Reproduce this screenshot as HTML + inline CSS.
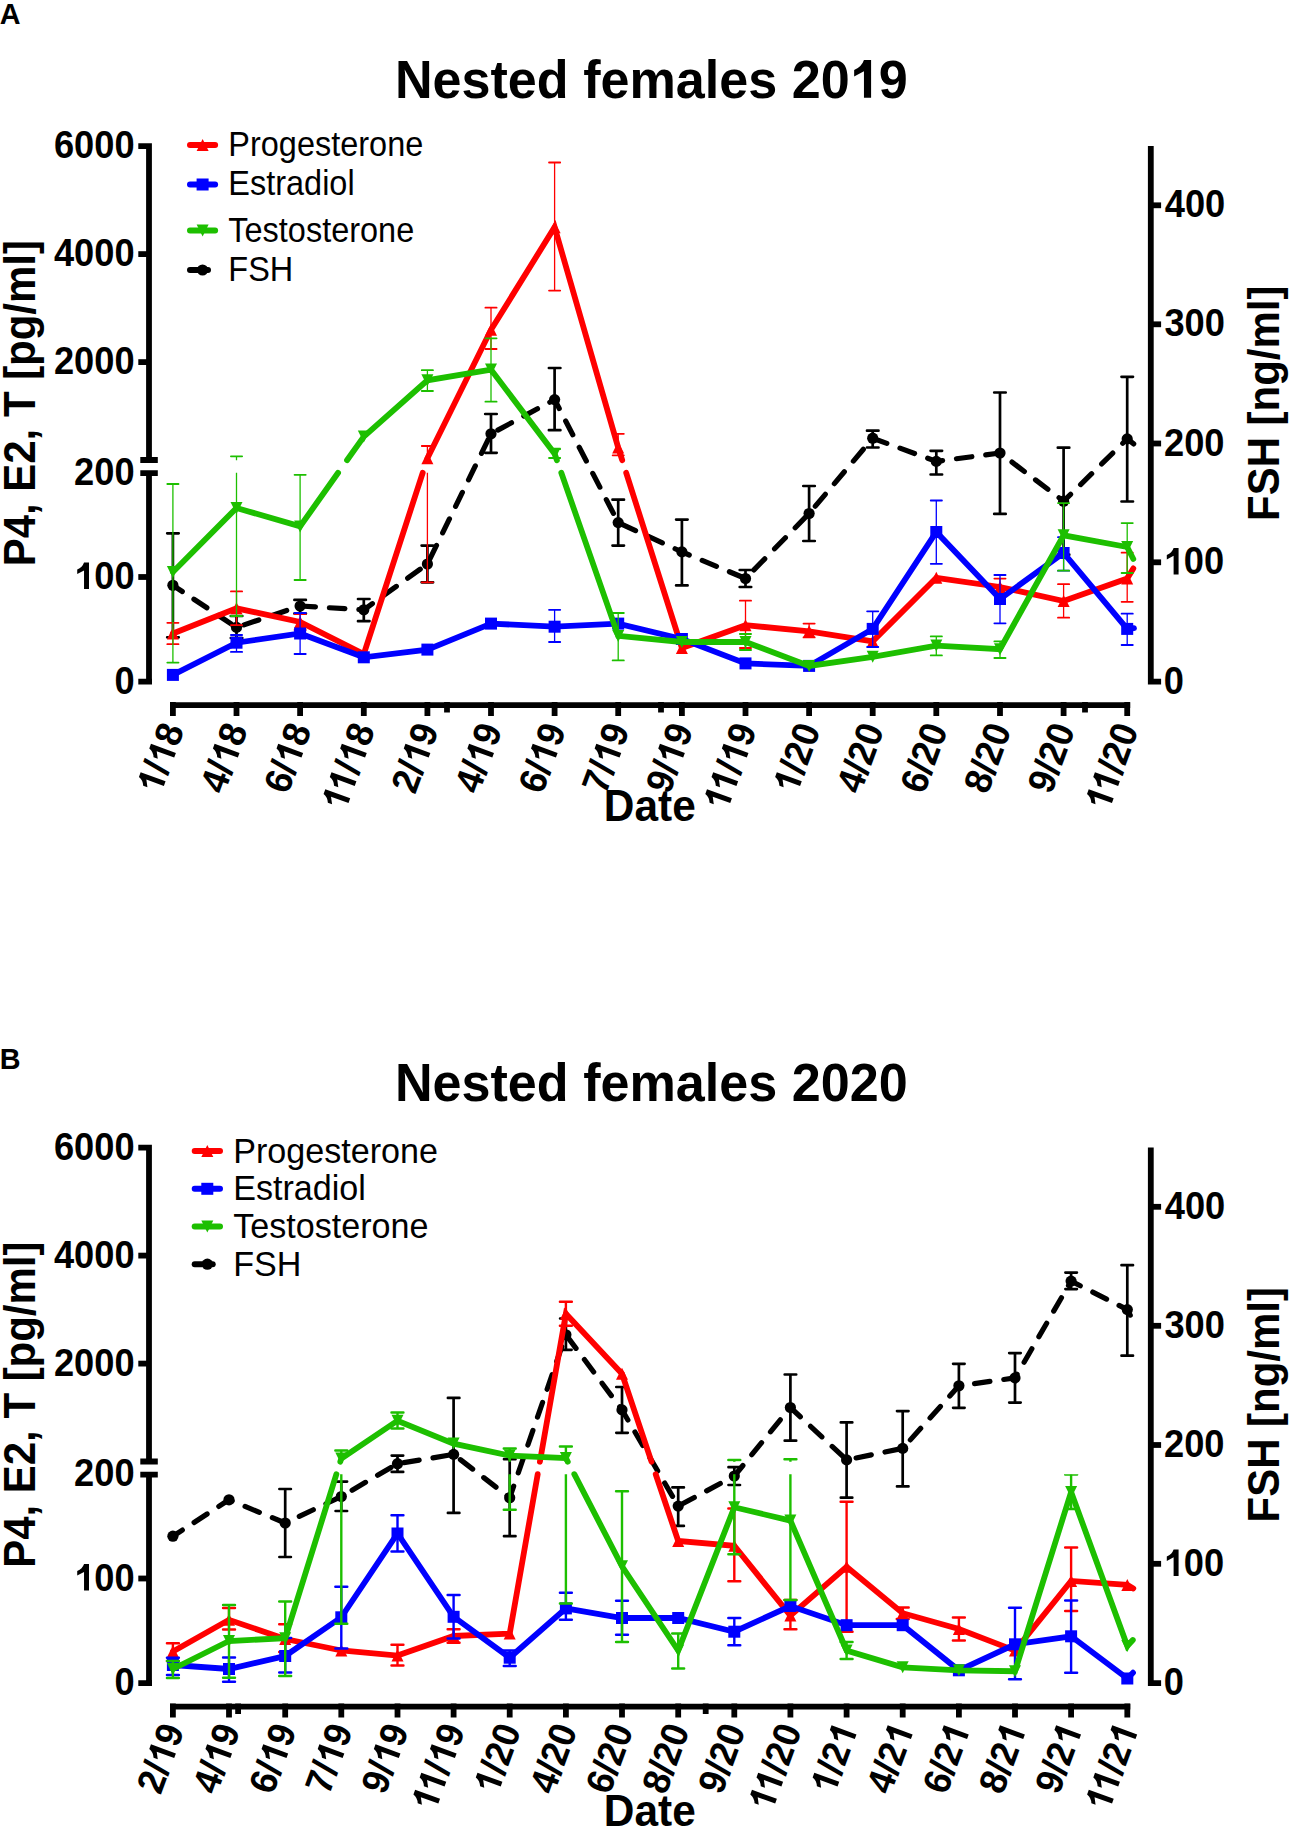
<!DOCTYPE html>
<html><head><meta charset="utf-8"><style>
html,body{margin:0;padding:0;background:#fff;}
body{width:1290px;height:1829px;overflow:hidden;}
svg{display:block;font-family:"Liberation Sans",sans-serif;}
</style></head><body>
<svg width="1290" height="1829" viewBox="0 0 1290 1829">
<rect width="1290" height="1829" fill="#fff"/>
<g transform="translate(-0.22,24.00) scale(0.96,1)" fill="#000">
<text x="0.00" y="0" font-size="30" font-weight="700">A</text>
</g>
<g transform="translate(394.91,97.75) scale(0.965,1)" fill="#000">
<text x="0.00 39.00 69.03 99.06 117.04 147.08 195.06 213.05 243.08 291.09 321.13 336.13 366.16 411.20 441.23 501.29" y="0" font-size="54" font-weight="700">Nestedfemales209</text>
<path transform="translate(471.26,0) scale(54)" d="M0.411,0 L0.411,-0.698 L0.274,-0.698 Q0.23,-0.57 0.086,-0.513 L0.086,-0.395 L0.274,-0.49 L0.274,0 Z"/>
</g>
<g transform="translate(0,0)">
<g stroke="#000" stroke-width="5.8" fill="none" stroke-linecap="butt">
<path d="M138.3,146.2 H149 V460.2 M140.3,460 H157.8 M140.3,473.1 H157.8 M149,472.8 V684.5 M138.3,681.7 H152"/>
<path d="M138.3,254.1 H149"/>
<path d="M138.3,362.1 H149"/>
<path d="M138.3,577.0 H149"/>
<path d="M1150.8,145.9 V684.5 M1148,681.7 H1161.1"/>
<path d="M1150.8,205.3 H1161.1"/>
<path d="M1150.8,324.3 H1161.1"/>
<path d="M1150.8,443.5 H1161.1"/>
<path d="M1150.8,562.3 H1161.1"/>
<path d="M170,705.2 H1130.2"/>
<path d="M172.9,702 V716"/>
<path d="M236.5,702 V716"/>
<path d="M300.1,702 V716"/>
<path d="M363.8,702 V716"/>
<path d="M427.4,702 V716"/>
<path d="M491.0,702 V716"/>
<path d="M554.6,702 V716"/>
<path d="M618.2,702 V716"/>
<path d="M681.9,702 V716"/>
<path d="M745.5,702 V716"/>
<path d="M809.1,702 V716"/>
<path d="M872.7,702 V716"/>
<path d="M936.3,702 V716"/>
<path d="M1000.0,702 V716"/>
<path d="M1063.6,702 V716"/>
<path d="M1127.2,702 V716"/>
<path d="M447.0,702 V712.5"/>
<path d="M661.0,702 V712.5"/>
<path d="M1085.0,702 V712.5"/>
</g>
<g transform="translate(53.94,158.30) scale(0.954,1)" fill="#000">
<text x="0.00 21.13 42.27 63.40" y="0" font-size="38" font-weight="700">6000</text>
</g>
<g transform="translate(53.94,266.20) scale(0.954,1)" fill="#000">
<text x="0.00 21.13 42.27 63.40" y="0" font-size="38" font-weight="700">4000</text>
</g>
<g transform="translate(53.94,374.20) scale(0.954,1)" fill="#000">
<text x="0.00 21.13 42.27 63.40" y="0" font-size="38" font-weight="700">2000</text>
</g>
<g transform="translate(74.10,484.90) scale(0.954,1)" fill="#000">
<text x="0.00 21.13 42.27" y="0" font-size="38" font-weight="700">200</text>
</g>
<g transform="translate(74.10,589.10) scale(0.954,1)" fill="#000">
<text x="21.13 42.27" y="0" font-size="38" font-weight="700">00</text>
<path transform="translate(0.00,0) scale(38)" d="M0.411,0 L0.411,-0.698 L0.274,-0.698 Q0.23,-0.57 0.086,-0.513 L0.086,-0.395 L0.274,-0.49 L0.274,0 Z"/>
</g>
<g transform="translate(114.43,693.80) scale(0.954,1)" fill="#000">
<text x="0.00" y="0" font-size="38" font-weight="700">0</text>
</g>
<g transform="translate(1163.87,693.80) scale(0.954,1)" fill="#000">
<text x="0.00" y="0" font-size="38" font-weight="700">0</text>
</g>
<g transform="translate(1163.68,574.40) scale(0.954,1)" fill="#000">
<text x="21.13 42.27" y="0" font-size="38" font-weight="700">00</text>
<path transform="translate(0.00,0) scale(38)" d="M0.411,0 L0.411,-0.698 L0.274,-0.698 Q0.23,-0.57 0.086,-0.513 L0.086,-0.395 L0.274,-0.49 L0.274,0 Z"/>
</g>
<g transform="translate(1164.04,455.60) scale(0.954,1)" fill="#000">
<text x="0.00 21.13 42.27" y="0" font-size="38" font-weight="700">200</text>
</g>
<g transform="translate(1164.47,336.40) scale(0.954,1)" fill="#000">
<text x="0.00 21.13 42.27" y="0" font-size="38" font-weight="700">300</text>
</g>
<g transform="translate(1164.75,217.40) scale(0.954,1)" fill="#000">
<text x="0.00 21.13 42.27" y="0" font-size="38" font-weight="700">400</text>
</g>
<g transform="translate(34.65,566.31) rotate(-90) scale(0.932,1)" fill="#000">
<text x="0.00 30.01 55.04 80.05 110.06 135.09 160.09 200.08 215.07 242.56 270.04 282.55 322.56 335.06" y="0" font-size="45" font-weight="700">P4,E2,T[pg/ml]</text>
</g>
<g transform="translate(1279.10,520.91) rotate(-90) scale(0.932,1)" fill="#000">
<text x="0.00 27.49 57.50 102.50 117.49 144.98 172.46 184.97 224.98 237.48" y="0" font-size="45" font-weight="700">FSH[ng/ml]</text>
</g>
<g transform="translate(184.60,729.00) rotate(-70) scale(0.954,1)" fill="#000">
<text x="-52.83 -21.13" y="0" font-size="38" font-weight="700">/8</text>
<path transform="translate(-73.96,0) scale(38)" d="M0.411,0 L0.411,-0.698 L0.274,-0.698 Q0.23,-0.57 0.086,-0.513 L0.086,-0.395 L0.274,-0.49 L0.274,0 Z"/>
<path transform="translate(-42.27,0) scale(38)" d="M0.411,0 L0.411,-0.698 L0.274,-0.698 Q0.23,-0.57 0.086,-0.513 L0.086,-0.395 L0.274,-0.49 L0.274,0 Z"/>
</g>
<g transform="translate(248.22,729.00) rotate(-70) scale(0.954,1)" fill="#000">
<text x="-73.96 -52.83 -21.13" y="0" font-size="38" font-weight="700">4/8</text>
<path transform="translate(-42.27,0) scale(38)" d="M0.411,0 L0.411,-0.698 L0.274,-0.698 Q0.23,-0.57 0.086,-0.513 L0.086,-0.395 L0.274,-0.49 L0.274,0 Z"/>
</g>
<g transform="translate(311.84,729.00) rotate(-70) scale(0.954,1)" fill="#000">
<text x="-73.96 -52.83 -21.13" y="0" font-size="38" font-weight="700">6/8</text>
<path transform="translate(-42.27,0) scale(38)" d="M0.411,0 L0.411,-0.698 L0.274,-0.698 Q0.23,-0.57 0.086,-0.513 L0.086,-0.395 L0.274,-0.49 L0.274,0 Z"/>
</g>
<g transform="translate(375.46,729.00) rotate(-70) scale(0.954,1)" fill="#000">
<text x="-52.83 -21.13" y="0" font-size="38" font-weight="700">/8</text>
<path transform="translate(-93.00,0) scale(38)" d="M0.411,0 L0.411,-0.698 L0.274,-0.698 Q0.23,-0.57 0.086,-0.513 L0.086,-0.395 L0.274,-0.49 L0.274,0 Z"/>
<path transform="translate(-73.96,0) scale(38)" d="M0.411,0 L0.411,-0.698 L0.274,-0.698 Q0.23,-0.57 0.086,-0.513 L0.086,-0.395 L0.274,-0.49 L0.274,0 Z"/>
<path transform="translate(-42.27,0) scale(38)" d="M0.411,0 L0.411,-0.698 L0.274,-0.698 Q0.23,-0.57 0.086,-0.513 L0.086,-0.395 L0.274,-0.49 L0.274,0 Z"/>
</g>
<g transform="translate(439.08,729.00) rotate(-70) scale(0.954,1)" fill="#000">
<text x="-73.96 -52.83 -21.13" y="0" font-size="38" font-weight="700">2/9</text>
<path transform="translate(-42.27,0) scale(38)" d="M0.411,0 L0.411,-0.698 L0.274,-0.698 Q0.23,-0.57 0.086,-0.513 L0.086,-0.395 L0.274,-0.49 L0.274,0 Z"/>
</g>
<g transform="translate(502.70,729.00) rotate(-70) scale(0.954,1)" fill="#000">
<text x="-73.96 -52.83 -21.13" y="0" font-size="38" font-weight="700">4/9</text>
<path transform="translate(-42.27,0) scale(38)" d="M0.411,0 L0.411,-0.698 L0.274,-0.698 Q0.23,-0.57 0.086,-0.513 L0.086,-0.395 L0.274,-0.49 L0.274,0 Z"/>
</g>
<g transform="translate(566.32,729.00) rotate(-70) scale(0.954,1)" fill="#000">
<text x="-73.96 -52.83 -21.13" y="0" font-size="38" font-weight="700">6/9</text>
<path transform="translate(-42.27,0) scale(38)" d="M0.411,0 L0.411,-0.698 L0.274,-0.698 Q0.23,-0.57 0.086,-0.513 L0.086,-0.395 L0.274,-0.49 L0.274,0 Z"/>
</g>
<g transform="translate(629.94,729.00) rotate(-70) scale(0.954,1)" fill="#000">
<text x="-73.96 -52.83 -21.13" y="0" font-size="38" font-weight="700">7/9</text>
<path transform="translate(-42.27,0) scale(38)" d="M0.411,0 L0.411,-0.698 L0.274,-0.698 Q0.23,-0.57 0.086,-0.513 L0.086,-0.395 L0.274,-0.49 L0.274,0 Z"/>
</g>
<g transform="translate(693.56,729.00) rotate(-70) scale(0.954,1)" fill="#000">
<text x="-73.96 -52.83 -21.13" y="0" font-size="38" font-weight="700">9/9</text>
<path transform="translate(-42.27,0) scale(38)" d="M0.411,0 L0.411,-0.698 L0.274,-0.698 Q0.23,-0.57 0.086,-0.513 L0.086,-0.395 L0.274,-0.49 L0.274,0 Z"/>
</g>
<g transform="translate(757.18,729.00) rotate(-70) scale(0.954,1)" fill="#000">
<text x="-52.83 -21.13" y="0" font-size="38" font-weight="700">/9</text>
<path transform="translate(-93.00,0) scale(38)" d="M0.411,0 L0.411,-0.698 L0.274,-0.698 Q0.23,-0.57 0.086,-0.513 L0.086,-0.395 L0.274,-0.49 L0.274,0 Z"/>
<path transform="translate(-73.96,0) scale(38)" d="M0.411,0 L0.411,-0.698 L0.274,-0.698 Q0.23,-0.57 0.086,-0.513 L0.086,-0.395 L0.274,-0.49 L0.274,0 Z"/>
<path transform="translate(-42.27,0) scale(38)" d="M0.411,0 L0.411,-0.698 L0.274,-0.698 Q0.23,-0.57 0.086,-0.513 L0.086,-0.395 L0.274,-0.49 L0.274,0 Z"/>
</g>
<g transform="translate(820.80,729.00) rotate(-70) scale(0.954,1)" fill="#000">
<text x="-52.83 -42.27 -21.13" y="0" font-size="38" font-weight="700">/20</text>
<path transform="translate(-73.96,0) scale(38)" d="M0.411,0 L0.411,-0.698 L0.274,-0.698 Q0.23,-0.57 0.086,-0.513 L0.086,-0.395 L0.274,-0.49 L0.274,0 Z"/>
</g>
<g transform="translate(884.42,729.00) rotate(-70) scale(0.954,1)" fill="#000">
<text x="-73.96 -52.83 -42.27 -21.13" y="0" font-size="38" font-weight="700">4/20</text>
</g>
<g transform="translate(948.04,729.00) rotate(-70) scale(0.954,1)" fill="#000">
<text x="-73.96 -52.83 -42.27 -21.13" y="0" font-size="38" font-weight="700">6/20</text>
</g>
<g transform="translate(1011.66,729.00) rotate(-70) scale(0.954,1)" fill="#000">
<text x="-73.96 -52.83 -42.27 -21.13" y="0" font-size="38" font-weight="700">8/20</text>
</g>
<g transform="translate(1075.28,729.00) rotate(-70) scale(0.954,1)" fill="#000">
<text x="-73.96 -52.83 -42.27 -21.13" y="0" font-size="38" font-weight="700">9/20</text>
</g>
<g transform="translate(1138.90,729.00) rotate(-70) scale(0.954,1)" fill="#000">
<text x="-52.83 -42.27 -21.13" y="0" font-size="38" font-weight="700">/20</text>
<path transform="translate(-93.00,0) scale(38)" d="M0.411,0 L0.411,-0.698 L0.274,-0.698 Q0.23,-0.57 0.086,-0.513 L0.086,-0.395 L0.274,-0.49 L0.274,0 Z"/>
<path transform="translate(-73.96,0) scale(38)" d="M0.411,0 L0.411,-0.698 L0.274,-0.698 Q0.23,-0.57 0.086,-0.513 L0.086,-0.395 L0.274,-0.49 L0.274,0 Z"/>
</g>
<g transform="translate(603.87,820.70) scale(0.963,1)" fill="#000">
<text x="0.00 31.78 56.25 70.90" y="0" font-size="44" font-weight="700">Date</text>
</g>
</g>
<line x1="190" y1="145" x2="215.1" y2="145" stroke="#ff0000" stroke-width="6" stroke-linecap="round"/>
<path d="M202.6,139.0 L208.6,151.0 L196.6,151.0 Z" fill="#ff0000"/>
<g transform="translate(228.34,155.70) scale(0.941,1)" fill="#000">
<text x="0.00 23.01 34.50 53.69 72.87 92.06 109.31 118.90 138.08 149.57 168.76 187.95" y="0" font-size="34.5" font-weight="400">Progesterone</text>
</g>
<line x1="190" y1="184.5" x2="215.1" y2="184.5" stroke="#0000ff" stroke-width="6" stroke-linecap="round"/>
<rect x="196.6" y="178.5" width="12" height="12" fill="#0000ff"/>
<g transform="translate(228.34,195.20) scale(0.941,1)" fill="#000">
<text x="0.00 23.01 40.26 49.85 61.34 80.52 99.71 107.37 126.56" y="0" font-size="34.5" font-weight="400">Estradiol</text>
</g>
<line x1="190" y1="230.5" x2="215.1" y2="230.5" stroke="#1dbf00" stroke-width="6" stroke-linecap="round"/>
<path d="M202.6,236.5 L208.6,224.5 L196.6,224.5 Z" fill="#1dbf00"/>
<g transform="translate(228.34,242.00) scale(0.941,1)" fill="#000">
<text x="0.00 17.25 36.44 53.69 63.27 82.46 99.71 109.29 128.48 139.97 159.16 178.35" y="0" font-size="34.5" font-weight="400">Testosterone</text>
</g>
<line x1="190" y1="270" x2="208" y2="270" stroke="#000000" stroke-width="6" stroke-linecap="round"/>
<circle cx="202.55" cy="270" r="5.6" fill="#000000"/>
<g transform="translate(228.34,280.90) scale(0.941,1)" fill="#000">
<text x="0.00 21.07 44.09" y="0" font-size="34.5" font-weight="400">FSH</text>
</g>
<clipPath id="clipA"><path d="M0,0 H1290 V460.2 H0 Z M0,472.75 H1290 V1829 H0 Z"/></clipPath>
<g stroke="#000" stroke-width="2.7" fill="none" stroke-linecap="round">
<path d="M172.9,533.3 V637.3 M167.2,533.3 h11.5 M167.2,637.3 h11.5"/>
<path d="M236.5,616 V638 M230.8,616 h11.5 M230.8,638 h11.5"/>
<path d="M300.1,599.9 V613.6 M294.4,599.9 h11.5 M294.4,613.6 h11.5"/>
<path d="M363.8,599 V621.2 M358.0,599 h11.5 M358.0,621.2 h11.5"/>
<path d="M427.4,545.6 V582.3 M421.6,545.6 h11.5 M421.6,582.3 h11.5"/>
<path d="M491.0,414 V452.8 M485.2,414 h11.5 M485.2,452.8 h11.5"/>
<path d="M554.6,368 V430.2 M548.9,368 h11.5 M548.9,430.2 h11.5"/>
<path d="M618.2,499.7 V545.6 M612.5,499.7 h11.5 M612.5,545.6 h11.5"/>
<path d="M681.9,519.6 V585.4 M676.1,519.6 h11.5 M676.1,585.4 h11.5"/>
<path d="M745.5,570 V587 M739.7,570 h11.5 M739.7,587 h11.5"/>
<path d="M809.1,486 V541 M803.3,486 h11.5 M803.3,541 h11.5"/>
<path d="M872.7,430.7 V447.5 M867.0,430.7 h11.5 M867.0,447.5 h11.5"/>
<path d="M936.3,450.8 V474.5 M930.6,450.8 h11.5 M930.6,474.5 h11.5"/>
<path d="M1000.0,392.5 V513.9 M994.2,392.5 h11.5 M994.2,513.9 h11.5"/>
<path d="M1063.6,447.7 V554.7 M1057.8,447.7 h11.5 M1057.8,554.7 h11.5"/>
<path d="M1127.2,376.8 V501.5 M1121.5,376.8 h11.5 M1121.5,501.5 h11.5"/>
</g>
<polyline points="172.9,585.3 236.5,627.4 300.1,606.0 363.8,609.8 427.4,564.0 491.0,433.8 554.6,399.6 618.2,522.6 681.9,551.9 745.5,578.5 809.1,513.5 872.7,438.2 936.3,461.4 1000.0,453.0 1063.6,501.2 1127.2,438.9 1133.7,443.9" fill="none" stroke="#000" stroke-width="5.2" stroke-dasharray="15.5 14" stroke-dashoffset="4.25" stroke-linecap="round" stroke-linejoin="round"/>
<circle cx="172.9" cy="585.3" r="5.6" fill="#000"/>
<circle cx="236.5" cy="627.4" r="5.6" fill="#000"/>
<circle cx="300.1" cy="606" r="5.6" fill="#000"/>
<circle cx="363.8" cy="609.8" r="5.6" fill="#000"/>
<circle cx="427.4" cy="564" r="5.6" fill="#000"/>
<circle cx="491.0" cy="433.8" r="5.6" fill="#000"/>
<circle cx="554.6" cy="399.6" r="5.6" fill="#000"/>
<circle cx="618.2" cy="522.6" r="5.6" fill="#000"/>
<circle cx="681.9" cy="551.9" r="5.6" fill="#000"/>
<circle cx="745.5" cy="578.5" r="5.6" fill="#000"/>
<circle cx="809.1" cy="513.5" r="5.6" fill="#000"/>
<circle cx="872.7" cy="438.2" r="5.6" fill="#000"/>
<circle cx="936.3" cy="461.4" r="5.6" fill="#000"/>
<circle cx="1000.0" cy="453" r="5.6" fill="#000"/>
<circle cx="1063.6" cy="501.2" r="5.6" fill="#000"/>
<circle cx="1127.2" cy="438.9" r="5.6" fill="#000"/>
<g clip-path="url(#clipA)">
<g stroke="#ff0000" fill="none" stroke-linecap="round">
<path stroke-width="1.3" stroke-linecap="butt" d="M172.9,622.8 V644.2"/>
<path stroke-width="1.8" d="M167.30,622.8 h11.2 M167.30,644.2 h11.2"/>
<path stroke-width="1.3" stroke-linecap="butt" d="M236.5,591.4 V625.1"/>
<path stroke-width="1.8" d="M230.92,591.4 h11.2 M230.92,625.1 h11.2"/>
<path stroke-width="1.3" stroke-linecap="butt" d="M300.1,614 V630"/>
<path stroke-width="1.8" d="M294.54,614 h11.2 M294.54,630 h11.2"/>
<path stroke-width="1.3" stroke-linecap="butt" d="M427.4,446 V582.3"/>
<path stroke-width="1.8" d="M421.78,446 h11.2 M421.78,582.3 h11.2"/>
<path stroke-width="1.3" stroke-linecap="butt" d="M491.0,307.7 V349"/>
<path stroke-width="1.8" d="M485.40,307.7 h11.2 M485.40,349 h11.2"/>
<path stroke-width="1.3" stroke-linecap="butt" d="M554.6,162.5 V290.6"/>
<path stroke-width="1.8" d="M549.02,162.5 h11.2 M549.02,290.6 h11.2"/>
<path stroke-width="1.3" stroke-linecap="butt" d="M618.2,433.8 V455.3"/>
<path stroke-width="1.8" d="M612.64,433.8 h11.2 M612.64,455.3 h11.2"/>
<path stroke-width="1.3" stroke-linecap="butt" d="M745.5,600.7 V648"/>
<path stroke-width="1.8" d="M739.88,600.7 h11.2 M739.88,648 h11.2"/>
<path stroke-width="1.3" stroke-linecap="butt" d="M809.1,623.6 V637.4"/>
<path stroke-width="1.8" d="M803.50,623.6 h11.2 M803.50,637.4 h11.2"/>
<path stroke-width="1.3" stroke-linecap="butt" d="M1000.0,578.6 V595"/>
<path stroke-width="1.8" d="M994.36,578.6 h11.2 M994.36,595 h11.2"/>
<path stroke-width="1.3" stroke-linecap="butt" d="M1063.6,584.2 V617.7"/>
<path stroke-width="1.8" d="M1057.98,584.2 h11.2 M1057.98,617.7 h11.2"/>
<path stroke-width="1.3" stroke-linecap="butt" d="M1127.2,552.7 V601.8"/>
<path stroke-width="1.8" d="M1121.60,552.7 h11.2 M1121.60,601.8 h11.2"/>
</g>
</g>
<polyline points="172.9,633.5 236.5,608.3 300.1,622.0 363.8,654.2 422.7,472.8" fill="none" stroke="#ff0000" stroke-width="5.8" stroke-linejoin="miter" stroke-miterlimit="3" stroke-linecap="round"/>
<polyline points="426.8,460.2 427.4,458.3 491.0,329.8 554.6,227.2 618.2,447.6 622.2,460.2" fill="none" stroke="#ff0000" stroke-width="5.8" stroke-linejoin="miter" stroke-miterlimit="3" stroke-linecap="round"/>
<polyline points="626.2,472.8 681.9,648.0 745.5,625.2 809.1,631.3 872.7,641.4 936.3,577.8 1000.0,587.0 1063.6,601.0 1127.2,578.6 1133.3,568.4" fill="none" stroke="#ff0000" stroke-width="5.8" stroke-linejoin="miter" stroke-miterlimit="3" stroke-linecap="round"/>
<path d="M172.9,627.5 L178.9,639.5 L166.9,639.5 Z" fill="#ff0000"/>
<path d="M236.5,602.3 L242.5,614.3 L230.5,614.3 Z" fill="#ff0000"/>
<path d="M300.1,616.0 L306.1,628.0 L294.1,628.0 Z" fill="#ff0000"/>
<path d="M363.8,648.2 L369.8,660.2 L357.8,660.2 Z" fill="#ff0000"/>
<path d="M427.4,452.3 L433.4,464.3 L421.4,464.3 Z" fill="#ff0000"/>
<path d="M491.0,323.8 L497.0,335.8 L485.0,335.8 Z" fill="#ff0000"/>
<path d="M554.6,221.2 L560.6,233.2 L548.6,233.2 Z" fill="#ff0000"/>
<path d="M618.2,441.6 L624.2,453.6 L612.2,453.6 Z" fill="#ff0000"/>
<path d="M681.9,642.0 L687.9,654.0 L675.9,654.0 Z" fill="#ff0000"/>
<path d="M745.5,619.2 L751.5,631.2 L739.5,631.2 Z" fill="#ff0000"/>
<path d="M809.1,625.3 L815.1,637.3 L803.1,637.3 Z" fill="#ff0000"/>
<path d="M872.7,635.4 L878.7,647.4 L866.7,647.4 Z" fill="#ff0000"/>
<path d="M936.3,571.8 L942.3,583.8 L930.3,583.8 Z" fill="#ff0000"/>
<path d="M1000.0,581.0 L1006.0,593.0 L994.0,593.0 Z" fill="#ff0000"/>
<path d="M1063.6,595.0 L1069.6,607.0 L1057.6,607.0 Z" fill="#ff0000"/>
<path d="M1127.2,572.6 L1133.2,584.6 L1121.2,584.6 Z" fill="#ff0000"/>
<g clip-path="url(#clipA)">
<g stroke="#0000ff" fill="none" stroke-linecap="round">
<path stroke-width="1.3" stroke-linecap="butt" d="M236.5,635 V651.9"/>
<path stroke-width="1.8" d="M230.92,635 h11.2 M230.92,651.9 h11.2"/>
<path stroke-width="1.3" stroke-linecap="butt" d="M300.1,613 V654"/>
<path stroke-width="1.8" d="M294.54,613 h11.2 M294.54,654 h11.2"/>
<path stroke-width="1.3" stroke-linecap="butt" d="M554.6,609.8 V642"/>
<path stroke-width="1.8" d="M549.02,609.8 h11.2 M549.02,642 h11.2"/>
<path stroke-width="1.3" stroke-linecap="butt" d="M872.7,611.3 V647"/>
<path stroke-width="1.8" d="M867.12,611.3 h11.2 M867.12,647 h11.2"/>
<path stroke-width="1.3" stroke-linecap="butt" d="M936.3,500.5 V563.8"/>
<path stroke-width="1.8" d="M930.74,500.5 h11.2 M930.74,563.8 h11.2"/>
<path stroke-width="1.3" stroke-linecap="butt" d="M1000.0,575 V623.3"/>
<path stroke-width="1.8" d="M994.36,575 h11.2 M994.36,623.3 h11.2"/>
<path stroke-width="1.3" stroke-linecap="butt" d="M1063.6,537.2 V570.7"/>
<path stroke-width="1.8" d="M1057.98,537.2 h11.2 M1057.98,570.7 h11.2"/>
<path stroke-width="1.3" stroke-linecap="butt" d="M1127.2,613.7 V645"/>
<path stroke-width="1.8" d="M1121.60,613.7 h11.2 M1121.60,645 h11.2"/>
</g>
</g>
<polyline points="172.9,674.9 236.5,642.7 300.1,633.5 363.8,657.3 427.4,649.6 491.0,623.6 554.6,626.7 618.2,623.6 681.9,639.0 745.5,663.4 809.1,665.9 872.7,628.9 936.3,532.0 1000.0,599.0 1063.6,553.0 1127.2,628.9 1134.0,628.2" fill="none" stroke="#0000ff" stroke-width="5.8" stroke-linejoin="miter" stroke-miterlimit="3" stroke-linecap="round"/>
<rect x="166.9" y="668.9" width="12" height="12" fill="#0000ff"/>
<rect x="230.5" y="636.7" width="12" height="12" fill="#0000ff"/>
<rect x="294.1" y="627.5" width="12" height="12" fill="#0000ff"/>
<rect x="357.8" y="651.3" width="12" height="12" fill="#0000ff"/>
<rect x="421.4" y="643.6" width="12" height="12" fill="#0000ff"/>
<rect x="485.0" y="617.6" width="12" height="12" fill="#0000ff"/>
<rect x="548.6" y="620.7" width="12" height="12" fill="#0000ff"/>
<rect x="612.2" y="617.6" width="12" height="12" fill="#0000ff"/>
<rect x="675.9" y="633.0" width="12" height="12" fill="#0000ff"/>
<rect x="739.5" y="657.4" width="12" height="12" fill="#0000ff"/>
<rect x="803.1" y="659.9" width="12" height="12" fill="#0000ff"/>
<rect x="866.7" y="622.9" width="12" height="12" fill="#0000ff"/>
<rect x="930.3" y="526.0" width="12" height="12" fill="#0000ff"/>
<rect x="994.0" y="593.0" width="12" height="12" fill="#0000ff"/>
<rect x="1057.6" y="547.0" width="12" height="12" fill="#0000ff"/>
<rect x="1121.2" y="622.9" width="12" height="12" fill="#0000ff"/>
<g clip-path="url(#clipA)">
<g stroke="#1dbf00" fill="none" stroke-linecap="round">
<path stroke-width="1.3" stroke-linecap="butt" d="M172.9,484 V662.6"/>
<path stroke-width="1.8" d="M167.30,484 h11.2 M167.30,662.6 h11.2"/>
<path stroke-width="1.3" stroke-linecap="butt" d="M236.5,456.3 V616"/>
<path stroke-width="1.8" d="M230.92,456.3 h11.2 M230.92,616 h11.2"/>
<path stroke-width="1.3" stroke-linecap="butt" d="M300.1,474.8 V580"/>
<path stroke-width="1.8" d="M294.54,474.8 h11.2 M294.54,580 h11.2"/>
<path stroke-width="1.3" stroke-linecap="butt" d="M427.4,370.2 V391"/>
<path stroke-width="1.8" d="M421.78,370.2 h11.2 M421.78,391 h11.2"/>
<path stroke-width="1.3" stroke-linecap="butt" d="M491.0,338.3 V401.7"/>
<path stroke-width="1.8" d="M485.40,338.3 h11.2 M485.40,401.7 h11.2"/>
<path stroke-width="1.3" stroke-linecap="butt" d="M554.6,449 V458"/>
<path stroke-width="1.8" d="M549.02,449 h11.2 M549.02,458 h11.2"/>
<path stroke-width="1.3" stroke-linecap="butt" d="M618.2,613 V660.4"/>
<path stroke-width="1.8" d="M612.64,613 h11.2 M612.64,660.4 h11.2"/>
<path stroke-width="1.3" stroke-linecap="butt" d="M745.5,634 V650"/>
<path stroke-width="1.8" d="M739.88,634 h11.2 M739.88,650 h11.2"/>
<path stroke-width="1.3" stroke-linecap="butt" d="M936.3,636.4 V655.4"/>
<path stroke-width="1.8" d="M930.74,636.4 h11.2 M930.74,655.4 h11.2"/>
<path stroke-width="1.3" stroke-linecap="butt" d="M1000.0,641.4 V658"/>
<path stroke-width="1.8" d="M994.36,641.4 h11.2 M994.36,658 h11.2"/>
<path stroke-width="1.3" stroke-linecap="butt" d="M1063.6,503.1 V570.7"/>
<path stroke-width="1.8" d="M1057.98,503.1 h11.2 M1057.98,570.7 h11.2"/>
<path stroke-width="1.3" stroke-linecap="butt" d="M1127.2,523.1 V573"/>
<path stroke-width="1.8" d="M1121.60,523.1 h11.2 M1121.60,573 h11.2"/>
</g>
</g>
<polyline points="172.9,572.0 236.5,508.0 300.1,526.4 338.1,472.8" fill="none" stroke="#1dbf00" stroke-width="5.8" stroke-linejoin="miter" stroke-miterlimit="3" stroke-linecap="round"/>
<polyline points="347.0,460.2 363.8,436.6 427.4,380.3 491.0,369.6 554.6,453.7 556.9,460.2" fill="none" stroke="#1dbf00" stroke-width="5.8" stroke-linejoin="miter" stroke-miterlimit="3" stroke-linecap="round"/>
<polyline points="561.3,472.8 618.2,635.9 681.9,642.0 745.5,642.0 809.1,665.9 872.7,656.8 936.3,645.6 1000.0,649.2 1063.6,535.3 1127.2,547.0 1133.3,559.0" fill="none" stroke="#1dbf00" stroke-width="5.8" stroke-linejoin="miter" stroke-miterlimit="3" stroke-linecap="round"/>
<path d="M172.9,578.0 L178.9,566.0 L166.9,566.0 Z" fill="#1dbf00"/>
<path d="M236.5,514.0 L242.5,502.0 L230.5,502.0 Z" fill="#1dbf00"/>
<path d="M300.1,532.4 L306.1,520.4 L294.1,520.4 Z" fill="#1dbf00"/>
<path d="M363.8,442.6 L369.8,430.6 L357.8,430.6 Z" fill="#1dbf00"/>
<path d="M427.4,386.3 L433.4,374.3 L421.4,374.3 Z" fill="#1dbf00"/>
<path d="M491.0,375.6 L497.0,363.6 L485.0,363.6 Z" fill="#1dbf00"/>
<path d="M554.6,459.7 L560.6,447.7 L548.6,447.7 Z" fill="#1dbf00"/>
<path d="M618.2,641.9 L624.2,629.9 L612.2,629.9 Z" fill="#1dbf00"/>
<path d="M681.9,648.0 L687.9,636.0 L675.9,636.0 Z" fill="#1dbf00"/>
<path d="M745.5,648.0 L751.5,636.0 L739.5,636.0 Z" fill="#1dbf00"/>
<path d="M809.1,671.9 L815.1,659.9 L803.1,659.9 Z" fill="#1dbf00"/>
<path d="M872.7,662.8 L878.7,650.8 L866.7,650.8 Z" fill="#1dbf00"/>
<path d="M936.3,651.6 L942.3,639.6 L930.3,639.6 Z" fill="#1dbf00"/>
<path d="M1000.0,655.2 L1006.0,643.2 L994.0,643.2 Z" fill="#1dbf00"/>
<path d="M1063.6,541.3 L1069.6,529.3 L1057.6,529.3 Z" fill="#1dbf00"/>
<path d="M1127.2,553.0 L1133.2,541.0 L1121.2,541.0 Z" fill="#1dbf00"/>
<g transform="translate(-0.13,1068.70) scale(0.96,1)" fill="#000">
<text x="0.00" y="0" font-size="30" font-weight="700">B</text>
</g>
<g transform="translate(394.91,1100.75) scale(0.965,1)" fill="#000">
<text x="0.00 39.00 69.03 99.06 117.04 147.08 195.06 213.05 243.08 291.09 321.13 336.13 366.16 411.20 441.23 471.26 501.29" y="0" font-size="54" font-weight="700">Nestedfemales2020</text>
</g>
<g transform="translate(0,1001.5)">
<g stroke="#000" stroke-width="5.8" fill="none" stroke-linecap="butt">
<path d="M138.3,146.2 H149 V460.2 M140.3,460 H157.8 M140.3,473.1 H157.8 M149,472.8 V684.5 M138.3,681.7 H152"/>
<path d="M138.3,254.1 H149"/>
<path d="M138.3,362.1 H149"/>
<path d="M138.3,577.0 H149"/>
<path d="M1150.8,145.9 V684.5 M1148,681.7 H1161.1"/>
<path d="M1150.8,205.3 H1161.1"/>
<path d="M1150.8,324.3 H1161.1"/>
<path d="M1150.8,443.5 H1161.1"/>
<path d="M1150.8,562.3 H1161.1"/>
<path d="M170,705.2 H1130.3"/>
<path d="M172.9,702 V716"/>
<path d="M229.0,702 V716"/>
<path d="M285.2,702 V716"/>
<path d="M341.3,702 V716"/>
<path d="M397.5,702 V716"/>
<path d="M453.6,702 V716"/>
<path d="M509.7,702 V716"/>
<path d="M565.9,702 V716"/>
<path d="M622.0,702 V716"/>
<path d="M678.2,702 V716"/>
<path d="M734.3,702 V716"/>
<path d="M790.4,702 V716"/>
<path d="M846.6,702 V716"/>
<path d="M902.7,702 V716"/>
<path d="M958.9,702 V716"/>
<path d="M1015.0,702 V716"/>
<path d="M1071.1,702 V716"/>
<path d="M1127.3,702 V716"/>
<path d="M238.1,702 V712.5"/>
<path d="M705.7,702 V712.5"/>
</g>
<g transform="translate(53.94,158.30) scale(0.954,1)" fill="#000">
<text x="0.00 21.13 42.27 63.40" y="0" font-size="38" font-weight="700">6000</text>
</g>
<g transform="translate(53.94,266.20) scale(0.954,1)" fill="#000">
<text x="0.00 21.13 42.27 63.40" y="0" font-size="38" font-weight="700">4000</text>
</g>
<g transform="translate(53.94,374.20) scale(0.954,1)" fill="#000">
<text x="0.00 21.13 42.27 63.40" y="0" font-size="38" font-weight="700">2000</text>
</g>
<g transform="translate(74.10,484.90) scale(0.954,1)" fill="#000">
<text x="0.00 21.13 42.27" y="0" font-size="38" font-weight="700">200</text>
</g>
<g transform="translate(74.10,589.10) scale(0.954,1)" fill="#000">
<text x="21.13 42.27" y="0" font-size="38" font-weight="700">00</text>
<path transform="translate(0.00,0) scale(38)" d="M0.411,0 L0.411,-0.698 L0.274,-0.698 Q0.23,-0.57 0.086,-0.513 L0.086,-0.395 L0.274,-0.49 L0.274,0 Z"/>
</g>
<g transform="translate(114.43,693.80) scale(0.954,1)" fill="#000">
<text x="0.00" y="0" font-size="38" font-weight="700">0</text>
</g>
<g transform="translate(1163.87,693.80) scale(0.954,1)" fill="#000">
<text x="0.00" y="0" font-size="38" font-weight="700">0</text>
</g>
<g transform="translate(1163.68,574.40) scale(0.954,1)" fill="#000">
<text x="21.13 42.27" y="0" font-size="38" font-weight="700">00</text>
<path transform="translate(0.00,0) scale(38)" d="M0.411,0 L0.411,-0.698 L0.274,-0.698 Q0.23,-0.57 0.086,-0.513 L0.086,-0.395 L0.274,-0.49 L0.274,0 Z"/>
</g>
<g transform="translate(1164.04,455.60) scale(0.954,1)" fill="#000">
<text x="0.00 21.13 42.27" y="0" font-size="38" font-weight="700">200</text>
</g>
<g transform="translate(1164.47,336.40) scale(0.954,1)" fill="#000">
<text x="0.00 21.13 42.27" y="0" font-size="38" font-weight="700">300</text>
</g>
<g transform="translate(1164.75,217.40) scale(0.954,1)" fill="#000">
<text x="0.00 21.13 42.27" y="0" font-size="38" font-weight="700">400</text>
</g>
<g transform="translate(34.65,566.31) rotate(-90) scale(0.932,1)" fill="#000">
<text x="0.00 30.01 55.04 80.05 110.06 135.09 160.09 200.08 215.07 242.56 270.04 282.55 322.56 335.06" y="0" font-size="45" font-weight="700">P4,E2,T[pg/ml]</text>
</g>
<g transform="translate(1279.10,520.91) rotate(-90) scale(0.932,1)" fill="#000">
<text x="0.00 27.49 57.50 102.50 117.49 144.98 172.46 184.97 224.98 237.48" y="0" font-size="45" font-weight="700">FSH[ng/ml]</text>
</g>
<g transform="translate(184.60,728.00) rotate(-70) scale(0.954,1)" fill="#000">
<text x="-73.96 -52.83 -21.13" y="0" font-size="38" font-weight="700">2/9</text>
<path transform="translate(-42.27,0) scale(38)" d="M0.411,0 L0.411,-0.698 L0.274,-0.698 Q0.23,-0.57 0.086,-0.513 L0.086,-0.395 L0.274,-0.49 L0.274,0 Z"/>
</g>
<g transform="translate(240.74,728.00) rotate(-70) scale(0.954,1)" fill="#000">
<text x="-73.96 -52.83 -21.13" y="0" font-size="38" font-weight="700">4/9</text>
<path transform="translate(-42.27,0) scale(38)" d="M0.411,0 L0.411,-0.698 L0.274,-0.698 Q0.23,-0.57 0.086,-0.513 L0.086,-0.395 L0.274,-0.49 L0.274,0 Z"/>
</g>
<g transform="translate(296.88,728.00) rotate(-70) scale(0.954,1)" fill="#000">
<text x="-73.96 -52.83 -21.13" y="0" font-size="38" font-weight="700">6/9</text>
<path transform="translate(-42.27,0) scale(38)" d="M0.411,0 L0.411,-0.698 L0.274,-0.698 Q0.23,-0.57 0.086,-0.513 L0.086,-0.395 L0.274,-0.49 L0.274,0 Z"/>
</g>
<g transform="translate(353.02,728.00) rotate(-70) scale(0.954,1)" fill="#000">
<text x="-73.96 -52.83 -21.13" y="0" font-size="38" font-weight="700">7/9</text>
<path transform="translate(-42.27,0) scale(38)" d="M0.411,0 L0.411,-0.698 L0.274,-0.698 Q0.23,-0.57 0.086,-0.513 L0.086,-0.395 L0.274,-0.49 L0.274,0 Z"/>
</g>
<g transform="translate(409.16,728.00) rotate(-70) scale(0.954,1)" fill="#000">
<text x="-73.96 -52.83 -21.13" y="0" font-size="38" font-weight="700">9/9</text>
<path transform="translate(-42.27,0) scale(38)" d="M0.411,0 L0.411,-0.698 L0.274,-0.698 Q0.23,-0.57 0.086,-0.513 L0.086,-0.395 L0.274,-0.49 L0.274,0 Z"/>
</g>
<g transform="translate(465.30,728.00) rotate(-70) scale(0.954,1)" fill="#000">
<text x="-52.83 -21.13" y="0" font-size="38" font-weight="700">/9</text>
<path transform="translate(-93.00,0) scale(38)" d="M0.411,0 L0.411,-0.698 L0.274,-0.698 Q0.23,-0.57 0.086,-0.513 L0.086,-0.395 L0.274,-0.49 L0.274,0 Z"/>
<path transform="translate(-73.96,0) scale(38)" d="M0.411,0 L0.411,-0.698 L0.274,-0.698 Q0.23,-0.57 0.086,-0.513 L0.086,-0.395 L0.274,-0.49 L0.274,0 Z"/>
<path transform="translate(-42.27,0) scale(38)" d="M0.411,0 L0.411,-0.698 L0.274,-0.698 Q0.23,-0.57 0.086,-0.513 L0.086,-0.395 L0.274,-0.49 L0.274,0 Z"/>
</g>
<g transform="translate(521.44,728.00) rotate(-70) scale(0.954,1)" fill="#000">
<text x="-52.83 -42.27 -21.13" y="0" font-size="38" font-weight="700">/20</text>
<path transform="translate(-73.96,0) scale(38)" d="M0.411,0 L0.411,-0.698 L0.274,-0.698 Q0.23,-0.57 0.086,-0.513 L0.086,-0.395 L0.274,-0.49 L0.274,0 Z"/>
</g>
<g transform="translate(577.58,728.00) rotate(-70) scale(0.954,1)" fill="#000">
<text x="-73.96 -52.83 -42.27 -21.13" y="0" font-size="38" font-weight="700">4/20</text>
</g>
<g transform="translate(633.72,728.00) rotate(-70) scale(0.954,1)" fill="#000">
<text x="-73.96 -52.83 -42.27 -21.13" y="0" font-size="38" font-weight="700">6/20</text>
</g>
<g transform="translate(689.86,728.00) rotate(-70) scale(0.954,1)" fill="#000">
<text x="-73.96 -52.83 -42.27 -21.13" y="0" font-size="38" font-weight="700">8/20</text>
</g>
<g transform="translate(746.00,728.00) rotate(-70) scale(0.954,1)" fill="#000">
<text x="-73.96 -52.83 -42.27 -21.13" y="0" font-size="38" font-weight="700">9/20</text>
</g>
<g transform="translate(802.14,728.00) rotate(-70) scale(0.954,1)" fill="#000">
<text x="-52.83 -42.27 -21.13" y="0" font-size="38" font-weight="700">/20</text>
<path transform="translate(-93.00,0) scale(38)" d="M0.411,0 L0.411,-0.698 L0.274,-0.698 Q0.23,-0.57 0.086,-0.513 L0.086,-0.395 L0.274,-0.49 L0.274,0 Z"/>
<path transform="translate(-73.96,0) scale(38)" d="M0.411,0 L0.411,-0.698 L0.274,-0.698 Q0.23,-0.57 0.086,-0.513 L0.086,-0.395 L0.274,-0.49 L0.274,0 Z"/>
</g>
<g transform="translate(858.28,728.00) rotate(-70) scale(0.954,1)" fill="#000">
<text x="-52.83 -42.27" y="0" font-size="38" font-weight="700">/2</text>
<path transform="translate(-73.96,0) scale(38)" d="M0.411,0 L0.411,-0.698 L0.274,-0.698 Q0.23,-0.57 0.086,-0.513 L0.086,-0.395 L0.274,-0.49 L0.274,0 Z"/>
<path transform="translate(-21.13,0) scale(38)" d="M0.411,0 L0.411,-0.698 L0.274,-0.698 Q0.23,-0.57 0.086,-0.513 L0.086,-0.395 L0.274,-0.49 L0.274,0 Z"/>
</g>
<g transform="translate(914.42,728.00) rotate(-70) scale(0.954,1)" fill="#000">
<text x="-73.96 -52.83 -42.27" y="0" font-size="38" font-weight="700">4/2</text>
<path transform="translate(-21.13,0) scale(38)" d="M0.411,0 L0.411,-0.698 L0.274,-0.698 Q0.23,-0.57 0.086,-0.513 L0.086,-0.395 L0.274,-0.49 L0.274,0 Z"/>
</g>
<g transform="translate(970.56,728.00) rotate(-70) scale(0.954,1)" fill="#000">
<text x="-73.96 -52.83 -42.27" y="0" font-size="38" font-weight="700">6/2</text>
<path transform="translate(-21.13,0) scale(38)" d="M0.411,0 L0.411,-0.698 L0.274,-0.698 Q0.23,-0.57 0.086,-0.513 L0.086,-0.395 L0.274,-0.49 L0.274,0 Z"/>
</g>
<g transform="translate(1026.70,728.00) rotate(-70) scale(0.954,1)" fill="#000">
<text x="-73.96 -52.83 -42.27" y="0" font-size="38" font-weight="700">8/2</text>
<path transform="translate(-21.13,0) scale(38)" d="M0.411,0 L0.411,-0.698 L0.274,-0.698 Q0.23,-0.57 0.086,-0.513 L0.086,-0.395 L0.274,-0.49 L0.274,0 Z"/>
</g>
<g transform="translate(1082.84,728.00) rotate(-70) scale(0.954,1)" fill="#000">
<text x="-73.96 -52.83 -42.27" y="0" font-size="38" font-weight="700">9/2</text>
<path transform="translate(-21.13,0) scale(38)" d="M0.411,0 L0.411,-0.698 L0.274,-0.698 Q0.23,-0.57 0.086,-0.513 L0.086,-0.395 L0.274,-0.49 L0.274,0 Z"/>
</g>
<g transform="translate(1138.98,728.00) rotate(-70) scale(0.954,1)" fill="#000">
<text x="-52.83 -42.27" y="0" font-size="38" font-weight="700">/2</text>
<path transform="translate(-93.00,0) scale(38)" d="M0.411,0 L0.411,-0.698 L0.274,-0.698 Q0.23,-0.57 0.086,-0.513 L0.086,-0.395 L0.274,-0.49 L0.274,0 Z"/>
<path transform="translate(-73.96,0) scale(38)" d="M0.411,0 L0.411,-0.698 L0.274,-0.698 Q0.23,-0.57 0.086,-0.513 L0.086,-0.395 L0.274,-0.49 L0.274,0 Z"/>
<path transform="translate(-21.13,0) scale(38)" d="M0.411,0 L0.411,-0.698 L0.274,-0.698 Q0.23,-0.57 0.086,-0.513 L0.086,-0.395 L0.274,-0.49 L0.274,0 Z"/>
</g>
<g transform="translate(603.87,824.70) scale(0.963,1)" fill="#000">
<text x="0.00 31.78 56.25 70.90" y="0" font-size="44" font-weight="700">Date</text>
</g>
</g>
<line x1="194.7" y1="1150.9" x2="220" y2="1150.9" stroke="#ff0000" stroke-width="6" stroke-linecap="round"/>
<path d="M207.3,1144.9 L213.3,1156.9 L201.3,1156.9 Z" fill="#ff0000"/>
<g transform="translate(233.20,1163.00) scale(0.947,1)" fill="#000">
<text x="0.00 24.01 36.00 56.02 76.04 96.06 114.06 124.07 144.09 156.08 176.10 196.12" y="0" font-size="36" font-weight="400">Progesterone</text>
</g>
<line x1="194.7" y1="1188.8" x2="220" y2="1188.8" stroke="#0000ff" stroke-width="6" stroke-linecap="round"/>
<rect x="201.3" y="1182.8" width="12" height="12" fill="#0000ff"/>
<g transform="translate(233.20,1200.30) scale(0.947,1)" fill="#000">
<text x="0.00 24.01 42.01 52.01 64.00 84.02 104.04 112.04 132.06" y="0" font-size="36" font-weight="400">Estradiol</text>
</g>
<line x1="194.7" y1="1226.5" x2="220" y2="1226.5" stroke="#1dbf00" stroke-width="6" stroke-linecap="round"/>
<path d="M207.3,1232.5 L213.3,1220.5 L201.3,1220.5 Z" fill="#1dbf00"/>
<g transform="translate(233.20,1238.00) scale(0.947,1)" fill="#000">
<text x="0.00 18.00 38.02 56.02 66.02 86.04 104.04 114.05 134.07 146.06 166.08 186.10" y="0" font-size="36" font-weight="400">Testosterone</text>
</g>
<line x1="194.7" y1="1264.2" x2="212.7" y2="1264.2" stroke="#000000" stroke-width="6" stroke-linecap="round"/>
<circle cx="207.35" cy="1264.2" r="5.6" fill="#000000"/>
<g transform="translate(233.20,1276.10) scale(0.947,1)" fill="#000">
<text x="0.00 21.99 46.00" y="0" font-size="36" font-weight="400">FSH</text>
</g>
<clipPath id="clipB"><path d="M0,0 H1290 V1461.7 H0 Z M0,1474.25 H1290 V1829 H0 Z"/></clipPath>
<g stroke="#000" stroke-width="2.7" fill="none" stroke-linecap="round">
<path d="M285.2,1489 V1557 M279.4,1489 h11.5 M279.4,1557 h11.5"/>
<path d="M341.3,1481.6 V1511 M335.6,1481.6 h11.5 M335.6,1511 h11.5"/>
<path d="M397.5,1455.6 V1471.9 M391.7,1455.6 h11.5 M391.7,1471.9 h11.5"/>
<path d="M453.6,1397.9 V1512.9 M447.9,1397.9 h11.5 M447.9,1512.9 h11.5"/>
<path d="M509.7,1459.2 V1536.2 M504.0,1459.2 h11.5 M504.0,1536.2 h11.5"/>
<path d="M565.9,1318.5 V1349.8 M560.1,1318.5 h11.5 M560.1,1349.8 h11.5"/>
<path d="M622.0,1387 V1432.8 M616.3,1387 h11.5 M616.3,1432.8 h11.5"/>
<path d="M678.2,1487.4 V1525.9 M672.4,1487.4 h11.5 M672.4,1525.9 h11.5"/>
<path d="M734.3,1467.2 V1485 M728.5,1467.2 h11.5 M728.5,1485 h11.5"/>
<path d="M790.4,1374.5 V1440.7 M784.7,1374.5 h11.5 M784.7,1440.7 h11.5"/>
<path d="M846.6,1422.4 V1497.7 M840.8,1422.4 h11.5 M840.8,1497.7 h11.5"/>
<path d="M902.7,1411.1 V1486.4 M897.0,1411.1 h11.5 M897.0,1486.4 h11.5"/>
<path d="M958.9,1363.8 V1407.8 M953.1,1363.8 h11.5 M953.1,1407.8 h11.5"/>
<path d="M1015.0,1353.1 V1402.6 M1009.2,1353.1 h11.5 M1009.2,1402.6 h11.5"/>
<path d="M1071.1,1272.6 V1289.1 M1065.4,1272.6 h11.5 M1065.4,1289.1 h11.5"/>
<path d="M1127.3,1265.2 V1355.7 M1121.5,1265.2 h11.5 M1121.5,1355.7 h11.5"/>
</g>
<polyline points="172.9,1536.2 229.0,1499.8 285.2,1523.0 341.3,1496.5 397.5,1463.7 453.6,1454.4 509.7,1497.7 565.9,1334.8 622.0,1409.9 678.2,1506.1 734.3,1476.0 790.4,1407.5 846.6,1459.9 902.7,1448.4 958.9,1385.8 1015.0,1377.9 1071.1,1281.1 1127.3,1309.6 1132.8,1320.0" fill="none" stroke="#000" stroke-width="5.2" stroke-dasharray="15.5 14" stroke-dashoffset="4.25" stroke-linecap="round" stroke-linejoin="round"/>
<circle cx="172.9" cy="1536.2" r="5.6" fill="#000"/>
<circle cx="229.0" cy="1499.8" r="5.6" fill="#000"/>
<circle cx="285.2" cy="1523" r="5.6" fill="#000"/>
<circle cx="341.3" cy="1496.5" r="5.6" fill="#000"/>
<circle cx="397.5" cy="1463.7" r="5.6" fill="#000"/>
<circle cx="453.6" cy="1454.4" r="5.6" fill="#000"/>
<circle cx="509.7" cy="1497.7" r="5.6" fill="#000"/>
<circle cx="565.9" cy="1334.8" r="5.6" fill="#000"/>
<circle cx="622.0" cy="1409.9" r="5.6" fill="#000"/>
<circle cx="678.2" cy="1506.1" r="5.6" fill="#000"/>
<circle cx="734.3" cy="1476" r="5.6" fill="#000"/>
<circle cx="790.4" cy="1407.5" r="5.6" fill="#000"/>
<circle cx="846.6" cy="1459.9" r="5.6" fill="#000"/>
<circle cx="902.7" cy="1448.4" r="5.6" fill="#000"/>
<circle cx="958.9" cy="1385.8" r="5.6" fill="#000"/>
<circle cx="1015.0" cy="1377.9" r="5.6" fill="#000"/>
<circle cx="1071.1" cy="1281.1" r="5.6" fill="#000"/>
<circle cx="1127.3" cy="1309.6" r="5.6" fill="#000"/>
<g clip-path="url(#clipB)">
<g stroke="#ff0000" fill="none" stroke-linecap="round">
<path stroke-width="2.4" stroke-linecap="butt" d="M172.9,1643.2 V1661"/>
<path stroke-width="2.5" d="M166.95,1643.2 h11.9 M166.95,1661 h11.9"/>
<path stroke-width="2.4" stroke-linecap="butt" d="M229.0,1607.9 V1629.5"/>
<path stroke-width="2.5" d="M223.09,1607.9 h11.9 M223.09,1629.5 h11.9"/>
<path stroke-width="2.4" stroke-linecap="butt" d="M285.2,1624.3 V1652"/>
<path stroke-width="2.5" d="M279.23,1624.3 h11.9 M279.23,1652 h11.9"/>
<path stroke-width="2.4" stroke-linecap="butt" d="M397.5,1644.7 V1665.6"/>
<path stroke-width="2.5" d="M391.51,1644.7 h11.9 M391.51,1665.6 h11.9"/>
<path stroke-width="2.4" stroke-linecap="butt" d="M453.6,1629.3 V1642.8"/>
<path stroke-width="2.5" d="M447.65,1629.3 h11.9 M447.65,1642.8 h11.9"/>
<path stroke-width="2.4" stroke-linecap="butt" d="M565.9,1301.7 V1325.7"/>
<path stroke-width="2.5" d="M559.93,1301.7 h11.9 M559.93,1325.7 h11.9"/>
<path stroke-width="2.4" stroke-linecap="butt" d="M734.3,1508.5 V1581.2"/>
<path stroke-width="2.5" d="M728.35,1508.5 h11.9 M728.35,1581.2 h11.9"/>
<path stroke-width="2.4" stroke-linecap="butt" d="M790.4,1600 V1629.3"/>
<path stroke-width="2.5" d="M784.49,1600 h11.9 M784.49,1629.3 h11.9"/>
<path stroke-width="2.4" stroke-linecap="butt" d="M846.6,1501.8 V1631.7"/>
<path stroke-width="2.5" d="M840.63,1501.8 h11.9 M840.63,1631.7 h11.9"/>
<path stroke-width="2.4" stroke-linecap="butt" d="M902.7,1607.6 V1619"/>
<path stroke-width="2.5" d="M896.77,1607.6 h11.9 M896.77,1619 h11.9"/>
<path stroke-width="2.4" stroke-linecap="butt" d="M958.9,1617.6 V1640.6"/>
<path stroke-width="2.5" d="M952.91,1617.6 h11.9 M952.91,1640.6 h11.9"/>
<path stroke-width="2.4" stroke-linecap="butt" d="M1071.1,1547.5 V1611"/>
<path stroke-width="2.5" d="M1065.19,1547.5 h11.9 M1065.19,1611 h11.9"/>
</g>
</g>
<polyline points="172.9,1651.5 229.0,1619.8 285.2,1639.0 341.3,1650.5 397.5,1655.6 453.6,1636.0 509.7,1633.6 537.7,1474.2" fill="none" stroke="#ff0000" stroke-width="5.8" stroke-linejoin="miter" stroke-miterlimit="3" stroke-linecap="round"/>
<polyline points="539.9,1461.7 565.9,1313.7 622.0,1373.8 651.5,1461.7" fill="none" stroke="#ff0000" stroke-width="5.8" stroke-linejoin="miter" stroke-miterlimit="3" stroke-linecap="round"/>
<polyline points="655.7,1474.2 678.2,1541.0 734.3,1545.8 790.4,1615.6 846.6,1566.7 902.7,1613.2 958.9,1629.0 1015.0,1650.6 1071.1,1580.9 1127.3,1584.9 1133.3,1588.4" fill="none" stroke="#ff0000" stroke-width="5.8" stroke-linejoin="miter" stroke-miterlimit="3" stroke-linecap="round"/>
<path d="M172.9,1645.5 L178.9,1657.5 L166.9,1657.5 Z" fill="#ff0000"/>
<path d="M229.0,1613.8 L235.0,1625.8 L223.0,1625.8 Z" fill="#ff0000"/>
<path d="M285.2,1633.0 L291.2,1645.0 L279.2,1645.0 Z" fill="#ff0000"/>
<path d="M341.3,1644.5 L347.3,1656.5 L335.3,1656.5 Z" fill="#ff0000"/>
<path d="M397.5,1649.6 L403.5,1661.6 L391.5,1661.6 Z" fill="#ff0000"/>
<path d="M453.6,1630.0 L459.6,1642.0 L447.6,1642.0 Z" fill="#ff0000"/>
<path d="M509.7,1627.6 L515.7,1639.6 L503.7,1639.6 Z" fill="#ff0000"/>
<path d="M565.9,1307.7 L571.9,1319.7 L559.9,1319.7 Z" fill="#ff0000"/>
<path d="M622.0,1367.8 L628.0,1379.8 L616.0,1379.8 Z" fill="#ff0000"/>
<path d="M678.2,1535.0 L684.2,1547.0 L672.2,1547.0 Z" fill="#ff0000"/>
<path d="M734.3,1539.8 L740.3,1551.8 L728.3,1551.8 Z" fill="#ff0000"/>
<path d="M790.4,1609.6 L796.4,1621.6 L784.4,1621.6 Z" fill="#ff0000"/>
<path d="M846.6,1560.7 L852.6,1572.7 L840.6,1572.7 Z" fill="#ff0000"/>
<path d="M902.7,1607.2 L908.7,1619.2 L896.7,1619.2 Z" fill="#ff0000"/>
<path d="M958.9,1623.0 L964.9,1635.0 L952.9,1635.0 Z" fill="#ff0000"/>
<path d="M1015.0,1644.6 L1021.0,1656.6 L1009.0,1656.6 Z" fill="#ff0000"/>
<path d="M1071.1,1574.9 L1077.1,1586.9 L1065.1,1586.9 Z" fill="#ff0000"/>
<path d="M1127.3,1578.9 L1133.3,1590.9 L1121.3,1590.9 Z" fill="#ff0000"/>
<g clip-path="url(#clipB)">
<g stroke="#0000ff" fill="none" stroke-linecap="round">
<path stroke-width="2.4" stroke-linecap="butt" d="M172.9,1657.8 V1674.9"/>
<path stroke-width="2.5" d="M166.95,1657.8 h11.9 M166.95,1674.9 h11.9"/>
<path stroke-width="2.4" stroke-linecap="butt" d="M229.0,1657.6 V1681.8"/>
<path stroke-width="2.5" d="M223.09,1657.6 h11.9 M223.09,1681.8 h11.9"/>
<path stroke-width="2.4" stroke-linecap="butt" d="M285.2,1638 V1672.6"/>
<path stroke-width="2.5" d="M279.23,1638 h11.9 M279.23,1672.6 h11.9"/>
<path stroke-width="2.4" stroke-linecap="butt" d="M341.3,1586.8 V1648.5"/>
<path stroke-width="2.5" d="M335.37,1586.8 h11.9 M335.37,1648.5 h11.9"/>
<path stroke-width="2.4" stroke-linecap="butt" d="M397.5,1515.3 V1551.6"/>
<path stroke-width="2.5" d="M391.51,1515.3 h11.9 M391.51,1551.6 h11.9"/>
<path stroke-width="2.4" stroke-linecap="butt" d="M453.6,1595.1 V1638.4"/>
<path stroke-width="2.5" d="M447.65,1595.1 h11.9 M447.65,1638.4 h11.9"/>
<path stroke-width="2.4" stroke-linecap="butt" d="M509.7,1650.5 V1666.1"/>
<path stroke-width="2.5" d="M503.79,1650.5 h11.9 M503.79,1666.1 h11.9"/>
<path stroke-width="2.4" stroke-linecap="butt" d="M565.9,1592.7 V1619.7"/>
<path stroke-width="2.5" d="M559.93,1592.7 h11.9 M559.93,1619.7 h11.9"/>
<path stroke-width="2.4" stroke-linecap="butt" d="M622.0,1600.7 V1634.8"/>
<path stroke-width="2.5" d="M616.07,1600.7 h11.9 M616.07,1634.8 h11.9"/>
<path stroke-width="2.4" stroke-linecap="butt" d="M734.3,1618 V1645.2"/>
<path stroke-width="2.5" d="M728.35,1618 h11.9 M728.35,1645.2 h11.9"/>
<path stroke-width="2.4" stroke-linecap="butt" d="M1015.0,1607.8 V1679.2"/>
<path stroke-width="2.5" d="M1009.05,1607.8 h11.9 M1009.05,1679.2 h11.9"/>
<path stroke-width="2.4" stroke-linecap="butt" d="M1071.1,1600.5 V1672.8"/>
<path stroke-width="2.5" d="M1065.19,1600.5 h11.9 M1065.19,1672.8 h11.9"/>
</g>
</g>
<polyline points="172.9,1665.0 229.0,1669.0 285.2,1656.0 341.3,1617.3 397.5,1533.5 453.6,1616.8 509.7,1657.7 565.9,1608.4 622.0,1618.0 678.2,1618.0 734.3,1631.7 790.4,1606.0 846.6,1625.2 902.7,1625.2 958.9,1670.3 1015.0,1644.3 1071.1,1636.3 1127.3,1678.5 1133.0,1672.7" fill="none" stroke="#0000ff" stroke-width="5.8" stroke-linejoin="miter" stroke-miterlimit="3" stroke-linecap="round"/>
<rect x="166.9" y="1659.0" width="12" height="12" fill="#0000ff"/>
<rect x="223.0" y="1663.0" width="12" height="12" fill="#0000ff"/>
<rect x="279.2" y="1650.0" width="12" height="12" fill="#0000ff"/>
<rect x="335.3" y="1611.3" width="12" height="12" fill="#0000ff"/>
<rect x="391.5" y="1527.5" width="12" height="12" fill="#0000ff"/>
<rect x="447.6" y="1610.8" width="12" height="12" fill="#0000ff"/>
<rect x="503.7" y="1651.7" width="12" height="12" fill="#0000ff"/>
<rect x="559.9" y="1602.4" width="12" height="12" fill="#0000ff"/>
<rect x="616.0" y="1612.0" width="12" height="12" fill="#0000ff"/>
<rect x="672.2" y="1612.0" width="12" height="12" fill="#0000ff"/>
<rect x="728.3" y="1625.7" width="12" height="12" fill="#0000ff"/>
<rect x="784.4" y="1600.0" width="12" height="12" fill="#0000ff"/>
<rect x="840.6" y="1619.2" width="12" height="12" fill="#0000ff"/>
<rect x="896.7" y="1619.2" width="12" height="12" fill="#0000ff"/>
<rect x="952.9" y="1664.3" width="12" height="12" fill="#0000ff"/>
<rect x="1009.0" y="1638.3" width="12" height="12" fill="#0000ff"/>
<rect x="1065.1" y="1630.3" width="12" height="12" fill="#0000ff"/>
<rect x="1121.3" y="1672.5" width="12" height="12" fill="#0000ff"/>
<g clip-path="url(#clipB)">
<g stroke="#1dbf00" fill="none" stroke-linecap="round">
<path stroke-width="2.4" stroke-linecap="butt" d="M172.9,1661 V1678"/>
<path stroke-width="2.5" d="M166.95,1661 h11.9 M166.95,1678 h11.9"/>
<path stroke-width="2.4" stroke-linecap="butt" d="M229.0,1605.1 V1677.8"/>
<path stroke-width="2.5" d="M223.09,1605.1 h11.9 M223.09,1677.8 h11.9"/>
<path stroke-width="2.4" stroke-linecap="butt" d="M285.2,1601.5 V1675.9"/>
<path stroke-width="2.5" d="M279.23,1601.5 h11.9 M279.23,1675.9 h11.9"/>
<path stroke-width="2.4" stroke-linecap="butt" d="M341.3,1450.5 V1623.7"/>
<path stroke-width="2.5" d="M335.37,1450.5 h11.9 M335.37,1623.7 h11.9"/>
<path stroke-width="2.4" stroke-linecap="butt" d="M397.5,1412.6 V1428.4"/>
<path stroke-width="2.5" d="M391.51,1412.6 h11.9 M391.51,1428.4 h11.9"/>
<path stroke-width="2.4" stroke-linecap="butt" d="M509.7,1448.4 V1509.7"/>
<path stroke-width="2.5" d="M503.79,1448.4 h11.9 M503.79,1509.7 h11.9"/>
<path stroke-width="2.4" stroke-linecap="butt" d="M565.9,1446.5 V1603.6"/>
<path stroke-width="2.5" d="M559.93,1446.5 h11.9 M559.93,1603.6 h11.9"/>
<path stroke-width="2.4" stroke-linecap="butt" d="M622.0,1491.2 V1642"/>
<path stroke-width="2.5" d="M616.07,1491.2 h11.9 M616.07,1642 h11.9"/>
<path stroke-width="2.4" stroke-linecap="butt" d="M678.2,1633.6 V1668.5"/>
<path stroke-width="2.5" d="M672.21,1633.6 h11.9 M672.21,1668.5 h11.9"/>
<path stroke-width="2.4" stroke-linecap="butt" d="M734.3,1459.9 V1554.2"/>
<path stroke-width="2.5" d="M728.35,1459.9 h11.9 M728.35,1554.2 h11.9"/>
<path stroke-width="2.4" stroke-linecap="butt" d="M790.4,1459.2 V1600"/>
<path stroke-width="2.5" d="M784.49,1459.2 h11.9 M784.49,1600 h11.9"/>
<path stroke-width="2.4" stroke-linecap="butt" d="M846.6,1642 V1659"/>
<path stroke-width="2.5" d="M840.63,1642 h11.9 M840.63,1659 h11.9"/>
<path stroke-width="2.4" stroke-linecap="butt" d="M1071.1,1474.6 V1509"/>
<path stroke-width="2.5" d="M1065.19,1474.6 h11.9 M1065.19,1509 h11.9"/>
</g>
</g>
<polyline points="172.9,1669.0 229.0,1641.0 285.2,1638.2 336.4,1474.2" fill="none" stroke="#1dbf00" stroke-width="5.8" stroke-linejoin="miter" stroke-miterlimit="3" stroke-linecap="round"/>
<polyline points="340.3,1461.7 341.3,1458.5 397.5,1420.7 453.6,1443.6 509.7,1455.6 565.9,1458.0 567.8,1461.7" fill="none" stroke="#1dbf00" stroke-width="5.8" stroke-linejoin="miter" stroke-miterlimit="3" stroke-linecap="round"/>
<polyline points="574.3,1474.2 622.0,1566.3 678.2,1650.5 734.3,1507.3 790.4,1520.6 846.6,1650.5 902.7,1667.3 958.9,1670.3 1015.0,1671.2 1071.1,1492.0 1127.3,1646.0 1132.8,1640.0" fill="none" stroke="#1dbf00" stroke-width="5.8" stroke-linejoin="miter" stroke-miterlimit="3" stroke-linecap="round"/>
<path d="M172.9,1675.0 L178.9,1663.0 L166.9,1663.0 Z" fill="#1dbf00"/>
<path d="M229.0,1647.0 L235.0,1635.0 L223.0,1635.0 Z" fill="#1dbf00"/>
<path d="M285.2,1644.2 L291.2,1632.2 L279.2,1632.2 Z" fill="#1dbf00"/>
<path d="M341.3,1464.5 L347.3,1452.5 L335.3,1452.5 Z" fill="#1dbf00"/>
<path d="M397.5,1426.7 L403.5,1414.7 L391.5,1414.7 Z" fill="#1dbf00"/>
<path d="M453.6,1449.6 L459.6,1437.6 L447.6,1437.6 Z" fill="#1dbf00"/>
<path d="M509.7,1461.6 L515.7,1449.6 L503.7,1449.6 Z" fill="#1dbf00"/>
<path d="M565.9,1464.0 L571.9,1452.0 L559.9,1452.0 Z" fill="#1dbf00"/>
<path d="M622.0,1572.3 L628.0,1560.3 L616.0,1560.3 Z" fill="#1dbf00"/>
<path d="M678.2,1656.5 L684.2,1644.5 L672.2,1644.5 Z" fill="#1dbf00"/>
<path d="M734.3,1513.3 L740.3,1501.3 L728.3,1501.3 Z" fill="#1dbf00"/>
<path d="M790.4,1526.6 L796.4,1514.6 L784.4,1514.6 Z" fill="#1dbf00"/>
<path d="M846.6,1656.5 L852.6,1644.5 L840.6,1644.5 Z" fill="#1dbf00"/>
<path d="M902.7,1673.3 L908.7,1661.3 L896.7,1661.3 Z" fill="#1dbf00"/>
<path d="M958.9,1676.3 L964.9,1664.3 L952.9,1664.3 Z" fill="#1dbf00"/>
<path d="M1015.0,1677.2 L1021.0,1665.2 L1009.0,1665.2 Z" fill="#1dbf00"/>
<path d="M1071.1,1498.0 L1077.1,1486.0 L1065.1,1486.0 Z" fill="#1dbf00"/>
<path d="M1127.3,1652.0 L1133.3,1640.0 L1121.3,1640.0 Z" fill="#1dbf00"/>
</svg>
</body></html>
